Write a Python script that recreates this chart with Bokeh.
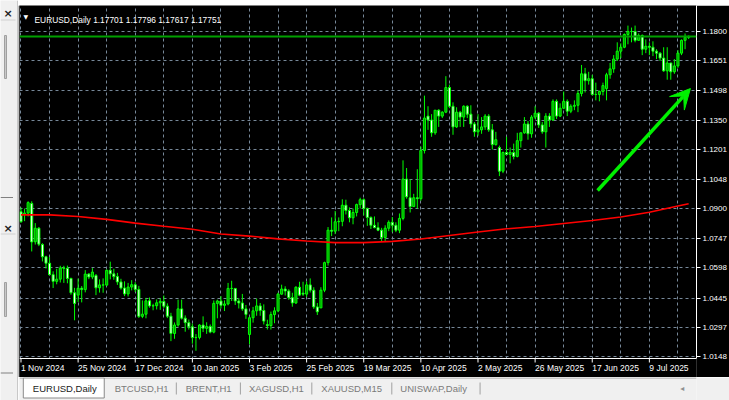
from bokeh.plotting import figure
from bokeh.models import (ColumnDataSource, FixedTicker, PrintfTickFormatter, Range1d,
                          LabelSet, Label, Arrow, VeeHead, Span, BoxAnnotation)
from bokeh.layouts import row, column
from bokeh.embed import file_html
from bokeh.resources import INLINE
from bokeh.core.properties import value

# ---------------- data (EURUSD, Daily) ----------------
time_labels = ["1 Nov 2024", "25 Nov 2024", "17 Dec 2024", "10 Jan 2025", "3 Feb 2025",
               "25 Feb 2025", "19 Mar 2025", "10 Apr 2025", "2 May 2025", "26 May 2025",
               "17 Jun 2025", "9 Jul 2025"]
label_bars = [0, 16, 32, 48, 64, 80, 96, 112, 128, 144, 160, 176]
price_ticks = [1.1800, 1.1651, 1.1498, 1.1350, 1.1201, 1.1048, 1.0900, 1.0747,
               1.0598, 1.0445, 1.0297, 1.0148]

opens = [1.0884, 1.0870, 1.0877, 1.0926, 1.0731, 1.0800, 1.0717, 1.0655, 1.0622, 1.0564,
         1.0530, 1.0541, 1.0598, 1.0596, 1.0545, 1.0472, 1.0460, 1.0495, 1.0488, 1.0567,
         1.0552, 1.0560, 1.0497, 1.0512, 1.0511, 1.0586, 1.0568, 1.0554, 1.0527, 1.0496,
         1.0466, 1.0501, 1.0513, 1.0489, 1.0352, 1.0363, 1.0431, 1.0405, 1.0406, 1.0421,
         1.0428, 1.0404, 1.0353, 1.0265, 1.0308, 1.0390, 1.0343, 1.0320, 1.0299, 1.0244,
         1.0245, 1.0308, 1.0291, 1.0301, 1.0272, 1.0418, 1.0430, 1.0408, 1.0415, 1.0494,
         1.0494, 1.0430, 1.0420, 1.0390, 1.0260, 1.0345, 1.0380, 1.0405, 1.0382, 1.0310,
         1.0305, 1.0361, 1.0380, 1.0465, 1.0491, 1.0481, 1.0447, 1.0420, 1.0500, 1.0470,
         1.0465, 1.0512, 1.0485, 1.0400, 1.0395, 1.0485, 1.0625, 1.0790, 1.0785, 1.0833,
         1.0835, 1.0917, 1.0890, 1.0853, 1.0880, 1.0920, 1.0945, 1.0900, 1.0855, 1.0815,
         1.0803, 1.0790, 1.0753, 1.0800, 1.0830, 1.0815, 1.0790, 1.0850, 1.1050, 1.0955,
         1.0910, 1.0955, 1.0950, 1.1195, 1.1370, 1.1350, 1.1285, 1.1400, 1.1370, 1.1390,
         1.1515, 1.1420, 1.1315, 1.1390, 1.1365, 1.1420, 1.1380, 1.1330, 1.1290, 1.1300,
         1.1315, 1.1370, 1.1300, 1.1225, 1.1210, 1.1090, 1.1185, 1.1175, 1.1185, 1.1165,
         1.1245, 1.1285, 1.1330, 1.1280, 1.1365, 1.1385, 1.1325, 1.1290, 1.1370, 1.1350,
         1.1445, 1.1370, 1.1410, 1.1445, 1.1395, 1.1420, 1.1425, 1.1485, 1.1585, 1.1550,
         1.1560, 1.1480, 1.1480, 1.1495, 1.1510, 1.1580, 1.1610, 1.1660, 1.1700, 1.1720,
         1.1785, 1.1800, 1.1800, 1.1755, 1.1780, 1.1710, 1.1725, 1.1720, 1.1700, 1.1690,
         1.1665, 1.1600, 1.1640, 1.1595, 1.1625, 1.1690, 1.1755, 1.17701]

highs = [1.0905, 1.0900, 1.0937, 1.0937, 1.0826, 1.0806, 1.0724, 1.0660, 1.0653, 1.0581,
         1.0594, 1.0609, 1.0609, 1.0610, 1.0548, 1.0497, 1.0544, 1.0506, 1.0587, 1.0572,
         1.0597, 1.0567, 1.0540, 1.0545, 1.0590, 1.0630, 1.0594, 1.0573, 1.0543, 1.0530,
         1.0522, 1.0536, 1.0526, 1.0507, 1.0433, 1.0446, 1.0448, 1.0416, 1.0438, 1.0445,
         1.0458, 1.0418, 1.0370, 1.0321, 1.0437, 1.0437, 1.0357, 1.0336, 1.0315, 1.0262,
         1.0312, 1.0352, 1.0322, 1.0311, 1.0433, 1.0437, 1.0455, 1.0433, 1.0522, 1.0533,
         1.0495, 1.0445, 1.0466, 1.0410, 1.0350, 1.0400, 1.0442, 1.0420, 1.0413, 1.0335,
         1.0376, 1.0398, 1.0472, 1.0513, 1.0505, 1.0490, 1.0472, 1.0505, 1.0528, 1.0528,
         1.0529, 1.0545, 1.0500, 1.0420, 1.0500, 1.0630, 1.0806, 1.0855, 1.0888, 1.0855,
         1.0947, 1.0945, 1.0906, 1.0900, 1.0925, 1.0955, 1.0952, 1.0905, 1.0860, 1.0860,
         1.0830, 1.0802, 1.0815, 1.0840, 1.0857, 1.0830, 1.0875, 1.1145, 1.1106, 1.1048,
         1.0975, 1.1100, 1.1215, 1.1474, 1.1420, 1.1380, 1.1400, 1.1405, 1.1395, 1.1573,
         1.1530, 1.1440, 1.1415, 1.1395, 1.1425, 1.1425, 1.1425, 1.1340, 1.1380, 1.1365,
         1.1380, 1.1380, 1.1330, 1.1290, 1.1220, 1.1190, 1.1265, 1.1210, 1.1230, 1.1285,
         1.1285, 1.1365, 1.1345, 1.1375, 1.1420, 1.1390, 1.1340, 1.1385, 1.1385, 1.1455,
         1.1455, 1.1435, 1.1495, 1.1455, 1.1430, 1.1450, 1.1500, 1.1630, 1.1615, 1.1595,
         1.1580, 1.1540, 1.1500, 1.1540, 1.1590, 1.1640, 1.1680, 1.1745, 1.1740, 1.1790,
         1.1830, 1.1820, 1.1830, 1.1790, 1.1785, 1.1760, 1.1745, 1.1750, 1.1710, 1.1695,
         1.1720, 1.1720, 1.1640, 1.1660, 1.1705, 1.1760, 1.1790, 1.17796]

lows = [1.0828, 1.0836, 1.0860, 1.0682, 1.0717, 1.0709, 1.0631, 1.0595, 1.0560, 1.0496,
        1.0515, 1.0524, 1.0522, 1.0520, 1.0462, 1.0332, 1.0425, 1.0423, 1.0474, 1.0541,
        1.0541, 1.0460, 1.0473, 1.0472, 1.0506, 1.0540, 1.0538, 1.0512, 1.0488, 1.0455,
        1.0453, 1.0484, 1.0476, 1.0344, 1.0343, 1.0342, 1.0396, 1.0383, 1.0387, 1.0385,
        1.0394, 1.0343, 1.0226, 1.0238, 1.0300, 1.0336, 1.0274, 1.0285, 1.0213, 1.0177,
        1.0235, 1.0272, 1.0263, 1.0266, 1.0266, 1.0342, 1.0392, 1.0379, 1.0408, 1.0430,
        1.0410, 1.0392, 1.0380, 1.0339, 1.0210, 1.0320, 1.0355, 1.0355, 1.0311, 1.0285,
        1.0285, 1.0317, 1.0373, 1.0462, 1.0458, 1.0436, 1.0401, 1.0415, 1.0455, 1.0456,
        1.0450, 1.0473, 1.0390, 1.0359, 1.0395, 1.0475, 1.0610, 1.0760, 1.0770, 1.0785,
        1.0810, 1.0870, 1.0830, 1.0820, 1.0860, 1.0900, 1.0865, 1.0812, 1.0796, 1.0800,
        1.0785, 1.0735, 1.0733, 1.0785, 1.0780, 1.0780, 1.0775, 1.0840, 1.0950, 1.0880,
        1.0910, 1.0900, 1.0940, 1.1180, 1.1300, 1.1265, 1.1275, 1.1315, 1.1360, 1.1385,
        1.1410, 1.1275, 1.1310, 1.1315, 1.1315, 1.1360, 1.1310, 1.1265, 1.1270, 1.1280,
        1.1300, 1.1290, 1.1200, 1.1220, 1.1065, 1.1080, 1.1170, 1.1130, 1.1150, 1.1160,
        1.1210, 1.1280, 1.1250, 1.1260, 1.1355, 1.1310, 1.1280, 1.1210, 1.1315, 1.1345,
        1.1355, 1.1365, 1.1405, 1.1370, 1.1385, 1.1400, 1.1390, 1.1470, 1.1490, 1.1530,
        1.1475, 1.1450, 1.1445, 1.1475, 1.1450, 1.1560, 1.1590, 1.1650, 1.1665, 1.1715,
        1.1735, 1.1745, 1.1745, 1.1755, 1.1680, 1.1690, 1.1680, 1.1675, 1.1660, 1.1650,
        1.1595, 1.1555, 1.1555, 1.1585, 1.1615, 1.1680, 1.1710, 1.17617]

closes = [1.0833, 1.0877, 1.0930, 1.0730, 1.0800, 1.0719, 1.0655, 1.0622, 1.0564, 1.0530,
          1.0541, 1.0598, 1.0596, 1.0545, 1.0472, 1.0418, 1.0495, 1.0488, 1.0567, 1.0552,
          1.0577, 1.0497, 1.0512, 1.0511, 1.0586, 1.0568, 1.0554, 1.0527, 1.0496, 1.0466,
          1.0501, 1.0513, 1.0489, 1.0352, 1.0363, 1.0431, 1.0405, 1.0406, 1.0421, 1.0428,
          1.0404, 1.0353, 1.0265, 1.0308, 1.0390, 1.0343, 1.0320, 1.0299, 1.0244, 1.0245,
          1.0308, 1.0291, 1.0301, 1.0272, 1.0418, 1.0430, 1.0408, 1.0415, 1.0494, 1.0494,
          1.0430, 1.0420, 1.0390, 1.0362, 1.0345, 1.0380, 1.0405, 1.0382, 1.0328, 1.0305,
          1.0361, 1.0380, 1.0465, 1.0491, 1.0481, 1.0447, 1.0420, 1.0500, 1.0460, 1.0465,
          1.0512, 1.0485, 1.0400, 1.0375, 1.0485, 1.0625, 1.0790, 1.0785, 1.0833, 1.0835,
          1.0917, 1.0890, 1.0853, 1.0880, 1.0920, 1.0945, 1.0900, 1.0855, 1.0815, 1.0803,
          1.0790, 1.0753, 1.0800, 1.0830, 1.0815, 1.0790, 1.0850, 1.1050, 1.0960, 1.0910,
          1.0955, 1.0950, 1.1195, 1.1360, 1.1350, 1.1285, 1.1400, 1.1370, 1.1390, 1.1515,
          1.1420, 1.1315, 1.1390, 1.1365, 1.1420, 1.1380, 1.1330, 1.1290, 1.1300, 1.1315,
          1.1370, 1.1300, 1.1225, 1.1250, 1.1090, 1.1185, 1.1175, 1.1185, 1.1165, 1.1245,
          1.1285, 1.1330, 1.1280, 1.1365, 1.1385, 1.1325, 1.1290, 1.1370, 1.1350, 1.1445,
          1.1370, 1.1410, 1.1445, 1.1395, 1.1420, 1.1425, 1.1485, 1.1585, 1.1550, 1.1560,
          1.1480, 1.1480, 1.1495, 1.1525, 1.1580, 1.1610, 1.1660, 1.1700, 1.1720, 1.1785,
          1.1800, 1.1800, 1.1755, 1.1780, 1.1710, 1.1725, 1.1720, 1.1700, 1.1690, 1.1665,
          1.1600, 1.1640, 1.1595, 1.1625, 1.1690, 1.1755, 1.1770, 1.17751]

# moving average (red line), read at every 8th bar
ma_bars = [0, 8, 16, 24, 32, 40, 48, 56, 64, 72, 80, 88, 96, 104, 112, 120, 128, 136,
           144, 152, 160, 168, 176, 184, 187]
ma_values = [1.0868, 1.0868, 1.0860, 1.0845, 1.0826, 1.0810, 1.0795, 1.0771, 1.0760,
             1.0746, 1.0735, 1.0727, 1.0727, 1.0733, 1.0745, 1.0763, 1.0781, 1.0797,
             1.0809, 1.0824, 1.0839, 1.0857, 1.0881, 1.0913, 1.0924]

symbol = "EURUSD,Daily"
last_ohlc = "1.17701 1.17796 1.17617 1.17751"
bid_price = 1.17751
arrow_from = (161.5, 1.0992)
arrow_to = (187.5, 1.1510)

tab_names = ["EURUSD,Daily", "BTCUSD,H1", "BRENT,H1", "XAGUSD,H1", "XAUUSD,M15", "UNISWAP,Daily"]

# ---------------- styling / layout constants ----------------
FONT = "Liberation Sans"
GRID = "#778899"
WICK = "#00ff00"
BULL = "#009400"
BEAR = "#ffffff"
PANEL = "#f0f0f0"

X_START, X_END = -0.42, 189.2          # bar-index range of the chart frame
Y_TOP, Y_BOTTOM = 1.19322, 1.00412     # price range of the frame (incl. date strip)
Y_EDGE = 1.01378                       # bottom border of the price area
PX = (Y_TOP - Y_BOTTOM) / 372.0        # price per pixel

n = len(closes)
bars = list(range(n))
src = ColumnDataSource(dict(
    x=bars, high=highs, low=lows,
    top=[max(o, c) for o, c in zip(opens, closes)],
    bottom=[min(o, c) for o, c in zip(opens, closes)],
    fill=[BULL if c > o else BEAR for o, c in zip(opens, closes)],
))

main = figure(width=711, height=372, title=None,
              x_range=Range1d(X_START, X_END), y_range=Range1d(Y_BOTTOM, Y_TOP),
              output_backend="svg", toolbar_location=None,
              x_axis_location=None, y_axis_location="right",
              background_fill_color="black", border_fill_color="black",
              min_border_left=1, min_border_right=31, min_border_top=0, min_border_bottom=0)
main.outline_line_color = None

# price axis
yax = main.yaxis[0]
yax.ticker = FixedTicker(ticks=price_ticks, minor_ticks=[])
yax.formatter = PrintfTickFormatter(format="%.4f")
yax.bounds = (Y_EDGE, Y_TOP)
yax.axis_line_color = "white"
yax.major_tick_line_color = "white"
yax.major_tick_out = 4
yax.major_tick_in = 0
yax.minor_tick_line_color = None
yax.major_label_standoff = 2
yax.major_label_text_color = "white"
yax.major_label_text_font = FONT
yax.major_label_text_font_size = "8px"

# grid
main.xgrid.ticker = FixedTicker(ticks=list(range(0, 189, 8)))
main.ygrid.ticker = FixedTicker(ticks=price_ticks)
for g in (main.xgrid[0], main.ygrid[0]):
    g.grid_line_color = GRID
    g.grid_line_dash = "3 3"
    g.grid_line_width = 1

# candles
main.segment(x0="x", y0="low", x1="x", y1="high", source=src, line_color=WICK, line_width=1)
main.vbar(x="x", top="top", bottom="bottom", width=0.58, source=src,
          fill_color="fill", line_color=WICK, line_width=1)

# moving average
main.line(ma_bars, ma_values, line_color="#ff0000", line_width=1.6)

# bid line
main.add_layout(Span(location=bid_price, dimension="width", line_color="#00a000", line_width=2))

# arrow drawn on the chart
main.add_layout(Arrow(end=VeeHead(size=20, fill_color="#00f000", line_color="#00f000"),
                      x_start=arrow_from[0], y_start=arrow_from[1],
                      x_end=arrow_to[0], y_end=arrow_to[1],
                      line_color="#00f000", line_width=3.5))

# date strip under the price area
main.add_layout(BoxAnnotation(top=Y_EDGE, fill_color="black", fill_alpha=1.0, line_color=None))
main.add_layout(Span(location=Y_EDGE, dimension="width", line_color="white", line_width=1))
ticks_r = main.segment(x0=label_bars, y0=[Y_EDGE] * len(label_bars),
                       x1=label_bars, y1=[Y_EDGE - 4 * PX] * len(label_bars),
                       line_color="white", line_width=1)
ticks_r.level = "overlay"
lab_src = ColumnDataSource(dict(x=label_bars, text=time_labels))
main.add_layout(LabelSet(x="x", y=7, y_units="screen", text="text", source=lab_src,
                         text_color="white", text_font=value(FONT), text_font_size=value("8.5px"),
                         text_align="left", text_baseline="alphabetic"))

# title
main.add_layout(Label(x=4, y=361.5, x_units="screen", y_units="screen", text="\u25bc",
                      text_color="white", text_font="DejaVu Sans", text_font_size="6px",
                      text_baseline="middle"))
main.add_layout(Label(x=15, y=357.7, x_units="screen", y_units="screen",
                      text=symbol + "  " + last_ohlc,
                      text_color="white", text_font=FONT, text_font_size="8.4px",
                      text_baseline="alphabetic"))

# ---------------- top strip ----------------
topstrip = figure(width=711, height=5, title=None, output_backend="svg", toolbar_location=None,
                  x_axis_location=None, y_axis_location=None,
                  background_fill_color=PANEL, border_fill_color=PANEL, min_border=0)
topstrip.outline_line_color = None
topstrip.grid.visible = False

# ---------------- tabs strip ----------------
tabs = figure(width=711, height=23, title=None, x_range=Range1d(18, 729), y_range=Range1d(400, 377),
              output_backend="svg", toolbar_location=None,
              x_axis_location=None, y_axis_location=None,
              background_fill_color=PANEL, border_fill_color=PANEL, min_border=0)
tabs.outline_line_color = None
tabs.grid.visible = False
tabs.segment(x0=[18], y0=[377.5], x1=[729], y1=[377.5], line_color="#a0a0a0", line_width=1)
tabs.quad(left=[22], right=[107], top=[377.5], bottom=[397.5],
          fill_color="white", line_color="#8a8a8a", line_width=1)
tab_x = [32, 118, 192.5, 259, 335, 418]
tabs.text(x=tab_x, y=[388] * len(tab_names), text=tab_names,
          text_color=["#1a1a1a"] + ["#7a7a7a"] * (len(tab_names) - 1),
          text_font=value(FONT), text_font_size=value("9.5px"),
          text_align="left", text_baseline="middle")
sep_x = [182.7, 250, 325, 409, 501.7]
tabs.segment(x0=sep_x, y0=[382] * 5, x1=sep_x, y1=[394] * 5, line_color="#a0a0a0", line_width=1)
tabs.text(x=[712], y=[387.5], text=["\u25c2"], text_color="#909090",
          text_font=value("DejaVu Sans"), text_font_size=value("8px"),
          text_align="left", text_baseline="middle")

# ---------------- left panel ----------------
left = figure(width=18, height=400, title=None, x_range=Range1d(0, 18), y_range=Range1d(400, 0),
              output_backend="svg", toolbar_location=None,
              x_axis_location=None, y_axis_location=None,
              background_fill_color=PANEL, border_fill_color=PANEL, min_border=0)
left.outline_line_color = None
left.grid.visible = False
left.segment(x0=[0, 0, 0, 0], y0=[19.5, 197, 233.5, 372.5], x1=[15, 12.5, 15, 12.5],
             y1=[19.5, 197, 233.5, 372.5],
             line_color=["#d0d0d0", "#808080", "#d0d0d0", "#808080"], line_width=1)
left.quad(left=[4, 4], right=[6, 6], top=[35, 282], bottom=[78, 316],
          fill_color="#c8c8c8", line_color="#a0a0a0", line_width=1)
left.text(x=[7.5, 7.5], y=[12.5, 228], text=["\u00d7", "\u00d7"], text_color="#202020",
          text_font=value("DejaVu Sans"), text_font_size=value("11px"),
          text_font_style="bold", text_align="center", text_baseline="middle")
left.segment(x0=[17.5], y0=[0], x1=[17.5], y1=[400], line_color="#a0a0a0", line_width=1)

layout = row(left, column(topstrip, main, tabs))

open("out.html", "w").write(file_html(layout, INLINE))
